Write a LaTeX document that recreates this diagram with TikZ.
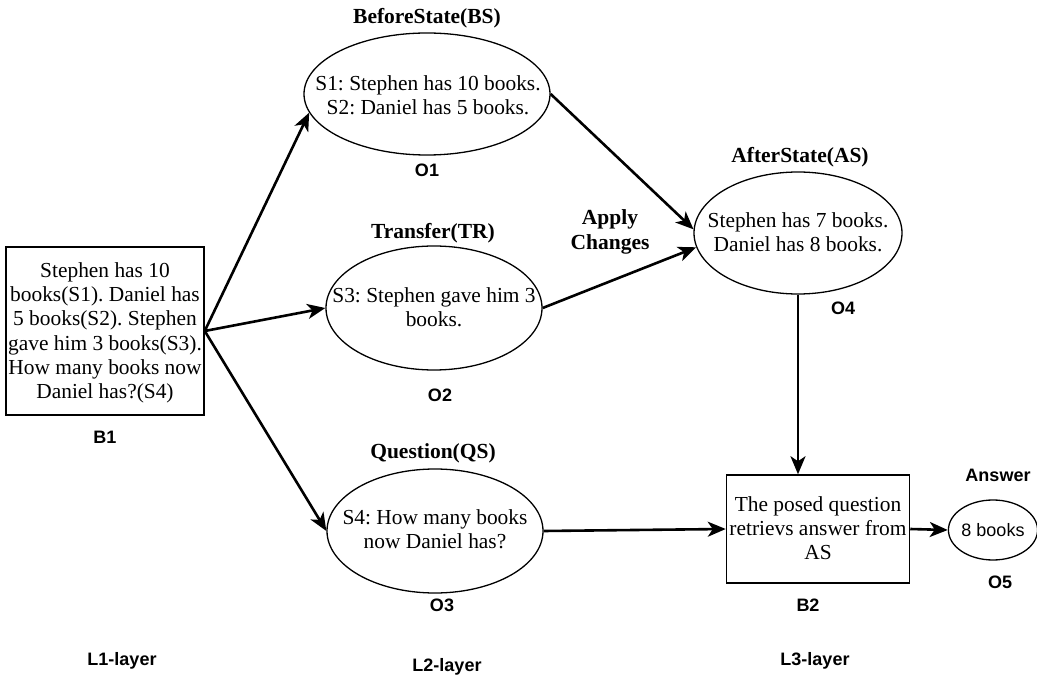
\documentclass[tikz,border=0pt]{standalone}
\usepackage{fontspec}
\setmainfont{Liberation Serif}
\setsansfont{Liberation Sans}
\usetikzlibrary{shapes.geometric,arrows.meta}
\frenchspacing
\tikzset{
  body/.style={font=\fontsize{21.4}{24.3}\selectfont, align=center, inner sep=0pt},
  title/.style={font=\bfseries\fontsize{21.5}{24.5}\selectfont, align=center, inner sep=0pt},
  tag/.style={font=\sffamily\bfseries\fontsize{18}{20}\selectfont, inner sep=0pt},
  oval/.style={draw, ellipse, line width=1.3pt, inner sep=0pt},
  panel/.style={draw, rectangle, line width=1.5pt, inner sep=0pt},
  flow/.style={line width=2.6pt, -{Stealth[length=18pt,width=15pt,inset=5pt]}},
}
\begin{document}
\begin{tikzpicture}[x=1pt,y=-1pt]
\useasboundingbox (0,0) rectangle (1037,676);

% input text box
\node[panel, minimum width=198pt, minimum height=168pt] (b1) at (105,331) {};
\node[body] (b1t) at (105,333) {Stephen has 10\\books(S1). Daniel has\\5 books(S2). Stephen\\gave him 3 books(S3).\\How many books now\\Daniel has?(S4)};
\node[tag] (b1l) at (105,437) {B1};

% before state
\node[oval, minimum width=246pt, minimum height=122pt] (o1) at (427,94) {};
\node[body] (o1t) at (428,95) {S1: Stephen has 10 books.\\S2: Daniel has 5 books.};
\node[title] (o1h) at (427,18) {BeforeState(BS)};
\node[tag] (o1l) at (427,170) {O1};

% transfer
\node[oval, minimum width=216pt, minimum height=124pt] (o2) at (434,308) {};
\node[body] (o2t) at (434,307) {S3: Stephen gave him 3\\books.};
\node[title] (o2h) at (433,233) {Transfer(TR)};
\node[tag] (o2l) at (440,395) {O2};

% question
\node[oval, minimum width=216pt, minimum height=124pt] (o3) at (435,531) {};
\node[body] (o3t) at (435,529) {S4: How many books\\now Daniel has?};
\node[title] (o3h) at (433,453) {Question(QS)};
\node[tag] (o3l) at (442,605) {O3};

% after state
\node[oval, minimum width=208pt, minimum height=122pt] (o4) at (798,233) {};
\node[body] (o4t) at (798,232) {Stephen has 7 books.\\Daniel has 8 books.};
\node[title] (o4h) at (800,157) {AfterState(AS)};
\node[tag] (o4l) at (843,308) {O4};
\node[title] (apply) at (610,232) {Apply\\Changes};

% retrieval box
\node[panel, minimum width=183pt, minimum height=108pt] (b2) at (818,529) {};
\node[body] (b2t) at (818,528) {The posed question\\retrievs answer from\\AS};
\node[tag] (b2l) at (808,605) {B2};

% answer
\node[oval, minimum width=78pt, minimum height=60pt, font=\sffamily\fontsize{18}{20}\selectfont] (o5) at (993,530) {8 books};
\node[tag] (o5h) at (998,475) {Answer};
\node[tag] (o5l) at (1000,582) {O5};

% layer captions
\node[tag] (l1) at (122,661) {L1-layer};
\node[tag] (l2) at (447,667) {L2-layer};
\node[tag] (l3) at (815,661) {L3-layer};

% connectors
\draw[flow] (b1.east) -- (o1.189);
\draw[flow] (b1.east) -- (o2.west);
\draw[flow] (b1.east) -- (o3.west);
\draw[flow] (o1.east) -- (o4.178);
\draw[flow] (o2.east) -- (o4.188);
\draw[flow] (o4.south) -- (o4.south |- b2.north);
\draw[flow] (o3.east) -- (b2.west);
\draw[flow] (b2.east) -- (o5.west);
\end{tikzpicture}
\end{document}
